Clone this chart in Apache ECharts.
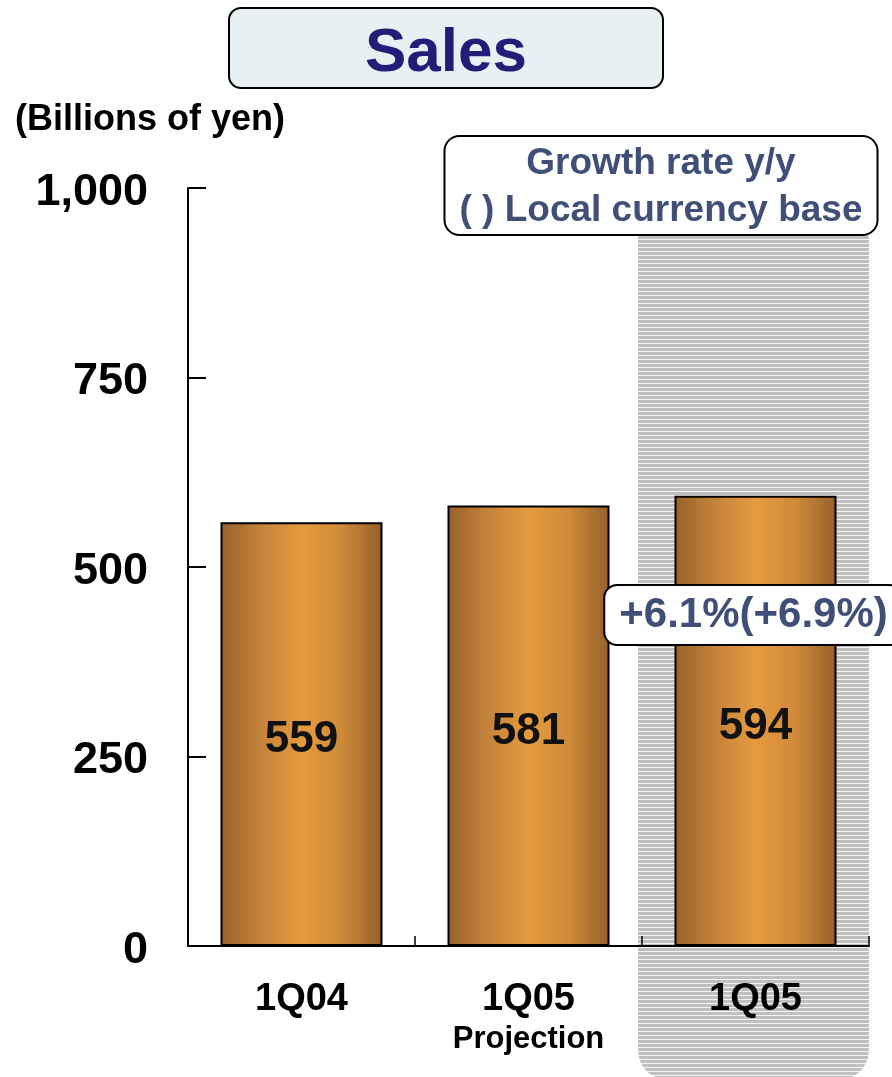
<!DOCTYPE html>
<html><head><meta charset="utf-8">
<script src="https://cdn.jsdelivr.net/npm/echarts@6/dist/echarts.min.js"></script>
<style>html,body{margin:0;padding:0;background:#fff}#c{width:892px;height:1077px}</style>
</head><body><div id="c"></div>
<script>
const categories = ['1Q04', '1Q05\nProjection', '1Q05'];
const sales = [559, 581, 594];
const yTicks = [0, 250, 500, 750, 1000];
const titleText = 'Sales';
const unitText = '(Billions of yen)';
const legendText = 'Growth rate y/y\n( ) Local currency base';
const growthLabel = '+6.1%(+6.9%)';
const FONT = '"Liberation Sans", Arial, sans-serif';

const chart = echarts.init(document.getElementById('c'), null, {renderer: 'canvas'});

const barGrad = new echarts.graphic.LinearGradient(0, 0, 1, 0, [
  {offset: 0, color: '#96612a'},
  {offset: 0.25, color: '#c5833a'},
  {offset: 0.5, color: '#e59b3f'},
  {offset: 0.75, color: '#cf8a3a'},
  {offset: 1, color: '#94602a'}
]);

const pc = document.createElement('canvas');
pc.width = 4; pc.height = 4;
const g = pc.getContext('2d');
g.fillStyle = '#f4f4f4'; g.fillRect(0, 0, 4, 4);
g.fillStyle = '#c0c0c0'; g.fillRect(0, 0, 4, 3);

const option = {
  animation: false,
  backgroundColor: '#ffffff',
  textStyle: {fontFamily: FONT},
  title: [
    {
      text: titleText, left: 'center', top: 8,
      backgroundColor: '#e8f0f4', borderColor: '#000', borderWidth: 2, borderRadius: 12,
      padding: [15, 136, 3, 136],
      textStyle: {fontFamily: FONT, fontSize: 62, fontWeight: 'bold', color: '#1f1f7a', lineHeight: 62}
    },
    {
      text: unitText, left: 10, top: 97,
      textStyle: {fontFamily: FONT, fontSize: 36, fontWeight: 'bold', color: '#000'}
    }
  ],
  grid: {left: 188, right: 23, top: 188, bottom: 131},
  xAxis: {
    type: 'category', data: categories,
    axisLine: {show: true, lineStyle: {color: '#000', width: 2}},
    axisTick: {show: true, inside: true, length: 10, lineStyle: {color: '#000', width: 1.5}},
    splitLine: {show: false},
    axisLabel: {
      margin: 33, interval: 0,
      formatter: function (v) {
        const parts = v.split('\n');
        return parts.length > 1 ? '{a|' + parts[0] + '}\n{b|' + parts[1] + '}' : '{a|' + v + '}';
      },
      rich: {
        a: {fontFamily: FONT, fontSize: 38, fontWeight: 'bold', color: '#000', lineHeight: 42},
        b: {fontFamily: FONT, fontSize: 31, fontWeight: 'bold', color: '#000', lineHeight: 36}
      }
    }
  },
  yAxis: {
    type: 'value', min: yTicks[0], max: yTicks[yTicks.length - 1], interval: yTicks[1] - yTicks[0],
    axisLine: {show: true, lineStyle: {color: '#000', width: 2}},
    axisTick: {show: true, inside: true, length: 18, lineStyle: {color: '#000', width: 2}},
    splitLine: {show: false},
    axisLabel: {
      margin: 40,
      formatter: function (v) { return '{v|' + v.toLocaleString('en-US') + '}'; },
      rich: {
        v: {fontFamily: FONT, fontSize: 45, fontWeight: 'bold', color: '#000', padding: [9, 0, 0, 0]}
      }
    }
  },
  series: [{
    type: 'bar', data: sales, barWidth: 162,
    itemStyle: {color: barGrad, borderColor: '#000', borderWidth: 2},
    label: {show: true, position: 'inside', offset: [0, 6], fontFamily: FONT, fontSize: 44, fontWeight: 'bold', color: '#111'}
  }]
};
chart.setOption(option);

const c2 = chart.convertToPixel({xAxisIndex: 0}, categories[2]);
const c1 = chart.convertToPixel({xAxisIndex: 0}, categories[1]);
const half = (c2 - c1) / 2;

chart.setOption({
  graphic: [
    {
      type: 'rect', z: -10, silent: true,
      shape: {x: c2 - half - 4, y: 228, width: 2 * half + 4, height: 1080 - 228, r: [0, 0, 30, 30]},
      style: {fill: {type: 'pattern', image: pc, repeat: 'repeat'}}
    },
    {
      type: 'text', z: 100, x: 661, y: 137,
      style: {
        text: legendText, align: 'center', verticalAlign: 'top',
        font: 'bold 37px ' + FONT, fill: '#3f4f78', lineHeight: 47,
        backgroundColor: '#ffffff', borderColor: '#000', borderWidth: 2, borderRadius: 14,
        padding: [3, 14, 0, 14]
      }
    },
    {
      type: 'text', z: 100, x: c2 - 2, y: 615,
      style: {
        text: growthLabel, align: 'center', verticalAlign: 'middle',
        font: 'bold 42px ' + FONT, fill: '#3f4f78', lineHeight: 44,
        backgroundColor: '#ffffff', borderColor: '#000', borderWidth: 2, borderRadius: 12,
        padding: [7, 14, 7, 14]
      }
    }
  ]
});
</script></body></html>
